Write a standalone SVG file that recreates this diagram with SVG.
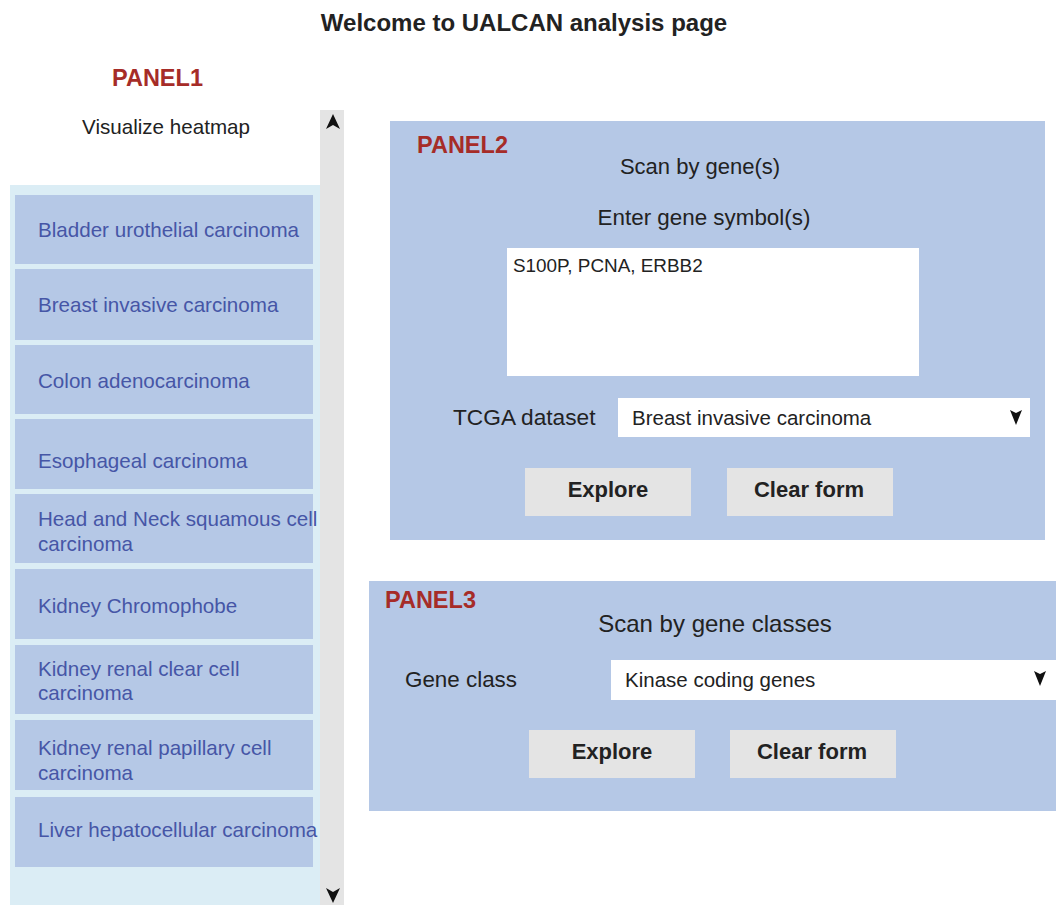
<svg xmlns="http://www.w3.org/2000/svg" width="1056" height="905" viewBox="0 0 1056 905">
  <style>
    text { font-family: "Liberation Sans", Arial, sans-serif; }
    .title { font-size: 24px; font-weight: bold; fill: #222; }
    .panel-tag { font-size: 23.5px; font-weight: bold; fill: #a62c28; }
    .label { font-size: 22px; fill: #222; }
    .field { font-size: 20.5px; fill: #222; }
    .btn { fill: #e4e4e4; }
    .btn-text { font-size: 22px; font-weight: bold; fill: #222; text-anchor: middle; }
    .panel { fill: #b5c8e6; }
    .item { fill: #b5c8e6; }
    .item-text { font-size: 20.6px; fill: #4656a6; }
    .input { fill: #ffffff; }
    .arrow { fill: #111; }
  </style>

  <rect width="1056" height="905" fill="#ffffff"/>

  <text class="title" x="524" y="31" text-anchor="middle">Welcome to UALCAN analysis page</text>

  <!-- Panel 1: heatmap cancer list -->
  <g id="panel1">
    <text class="panel-tag" x="112" y="86">PANEL1</text>
    <text class="label" x="166" y="134" text-anchor="middle" style="font-size:20.6px">Visualize heatmap</text>
    <rect x="10" y="185" width="310" height="720" fill="#dbedf5"/>
    <rect x="320" y="110" width="24" height="795" fill="#e4e4e4"/>
    <path class="arrow" d="M333 114 L340 129 L333 125 L326 129 Z"/>
    <path class="arrow" d="M333 903 L340 888 L333 892 L326 888 Z"/>

    <g id="item-bladder"><rect class="item" x="15" y="195" width="298" height="69"/>
      <text class="item-text" x="38" y="237">Bladder urothelial carcinoma</text></g>
    <g id="item-breast"><rect class="item" x="15" y="269" width="298" height="71"/>
      <text class="item-text" x="38" y="312">Breast invasive carcinoma</text></g>
    <g id="item-colon"><rect class="item" x="15" y="345" width="298" height="69"/>
      <text class="item-text" x="38" y="388">Colon adenocarcinoma</text></g>
    <g id="item-esophageal"><rect class="item" x="15" y="419" width="298" height="70"/>
      <text class="item-text" x="38" y="468">Esophageal carcinoma</text></g>
    <g id="item-headneck"><rect class="item" x="15" y="494" width="298" height="69"/>
      <text class="item-text" x="38" y="526">Head and Neck squamous cell</text>
      <text class="item-text" x="38" y="551">carcinoma</text></g>
    <g id="item-kich"><rect class="item" x="15" y="569" width="298" height="70"/>
      <text class="item-text" x="38" y="613">Kidney Chromophobe</text></g>
    <g id="item-kirc"><rect class="item" x="15" y="645" width="298" height="69"/>
      <text class="item-text" x="38" y="676">Kidney renal clear cell</text>
      <text class="item-text" x="38" y="700">carcinoma</text></g>
    <g id="item-kirp"><rect class="item" x="15" y="720" width="298" height="70"/>
      <text class="item-text" x="38" y="755">Kidney renal papillary cell</text>
      <text class="item-text" x="38" y="780">carcinoma</text></g>
    <g id="item-liver"><rect class="item" x="15" y="797" width="298" height="70"/>
      <text class="item-text" x="38" y="837">Liver hepatocellular carcinoma</text></g>
  </g>

  <!-- Panel 2: scan by gene(s) -->
  <g id="panel2">
    <rect class="panel" x="390" y="121" width="655" height="419"/>
    <text class="panel-tag" x="417" y="153">PANEL2</text>
    <text class="label" x="700" y="174" text-anchor="middle">Scan by gene(s)</text>
    <text class="label" x="704" y="225" text-anchor="middle" style="font-size:22.4px">Enter gene symbol(s)</text>
    <rect class="input" x="507" y="248" width="412" height="128"/>
    <text class="field" x="513" y="272" style="font-size:18.9px">S100P, PCNA, ERBB2</text>
    <text class="label" x="453" y="425" style="font-size:22.7px">TCGA dataset</text>
    <rect class="input" x="618" y="398" width="412" height="39"/>
    <text class="field" x="632" y="425">Breast invasive carcinoma</text>
    <path class="arrow" d="M1016 425 L1022 410 L1016 413 L1010 410 Z"/>
    <g id="p2-explore"><rect class="btn" x="525" y="468" width="166" height="48"/>
      <text class="btn-text" x="608" y="497">Explore</text></g>
    <g id="p2-clear"><rect class="btn" x="727" y="468" width="166" height="48"/>
      <text class="btn-text" x="809" y="497">Clear form</text></g>
  </g>

  <!-- Panel 3: scan by gene classes -->
  <g id="panel3">
    <rect class="panel" x="369" y="581" width="687" height="230"/>
    <text class="panel-tag" x="385" y="608">PANEL3</text>
    <text class="label" x="715" y="632" text-anchor="middle" style="font-size:24px">Scan by gene classes</text>
    <text class="label" x="405" y="687" style="font-size:22.4px">Gene class</text>
    <rect class="input" x="611" y="660" width="445" height="40"/>
    <text class="field" x="625" y="687">Kinase coding genes</text>
    <path class="arrow" d="M1040 686 L1046 671 L1040 674 L1034 671 Z"/>
    <g id="p3-explore"><rect class="btn" x="529" y="730" width="166" height="48"/>
      <text class="btn-text" x="612" y="759">Explore</text></g>
    <g id="p3-clear"><rect class="btn" x="730" y="730" width="166" height="48"/>
      <text class="btn-text" x="812" y="759">Clear form</text></g>
  </g>
</svg>
